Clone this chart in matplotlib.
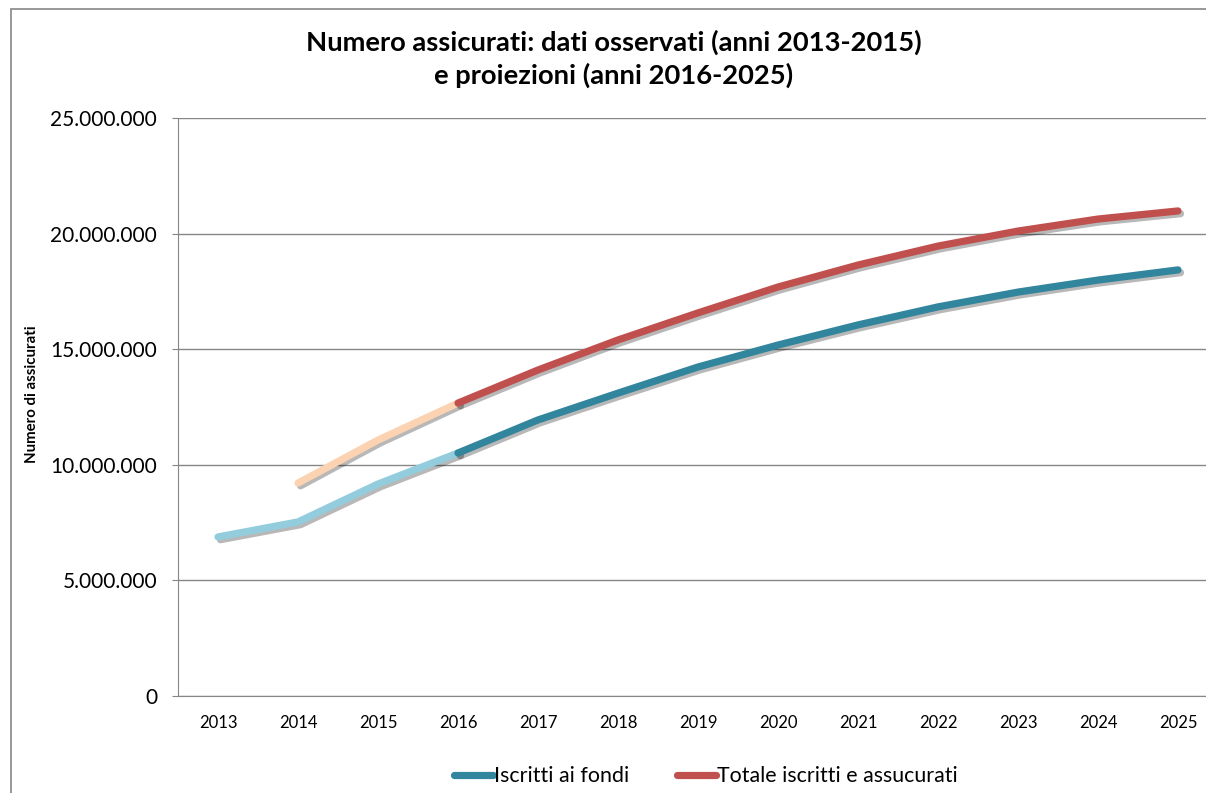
import numpy as np
import matplotlib
matplotlib.use("Agg")
import matplotlib.pyplot as plt
import matplotlib.patheffects as pe
from matplotlib.lines import Line2D
from matplotlib.patches import Rectangle
from matplotlib.ticker import FuncFormatter

plt.rcParams['font.family'] = ['Lato', 'DejaVu Sans']

# -------------------------------
# DATA
# -------------------------------
years = [2013, 2014, 2015, 2016, 2017, 2018, 2019, 2020, 2021, 2022, 2023, 2024, 2025]
iscritti = [6880000, 7530000, 9170000, 10510000, 11940000, 13100000, 14230000,
            15180000, 16050000, 16830000, 17470000, 17990000, 18430000]
totale = [np.nan, 9210000, 11070000, 12670000, 14100000, 15400000, 16570000,
          17690000, 18640000, 19460000, 20110000, 20630000, 20980000]
first_proj_year = 2016

title = "Numero assicurati: dati osservati (anni 2013-2015)\ne proiezioni (anni 2016-2025)"
ylabel = "Numero di assicurati"
labels = ["Iscritti ai fondi", "Totale iscritti e assucurati"]

teal = "#31859C"
red = "#C0504D"
light_teal = "#93CDDD"
peach = "#FBD3B2"
grid_col = "#868686"

# -------------------------------
# FIGURE
# -------------------------------
W, H = 1206, 793
fig = plt.figure(figsize=(W / 100, H / 100), dpi=100)
ax = fig.add_axes([178 / W, (H - 696) / H, 1040 / W, 578 / H])

x = np.arange(len(years))
k = years.index(first_proj_year)

shadow = [pe.SimpleLineShadow(offset=(1.8, -2.0), shadow_color="black", alpha=0.28),
          pe.Normal()]

def draw(vals, col_obs, col_proj):
    v = np.array(vals, dtype=float)
    ax.plot(x[:k + 1], v[:k + 1], color=col_obs, lw=5.2, solid_capstyle="round",
            solid_joinstyle="round", path_effects=shadow, zorder=3)
    ax.plot(x[k:], v[k:], color=col_proj, lw=5.2, solid_capstyle="round",
            solid_joinstyle="round", path_effects=shadow, zorder=4)

draw(iscritti, light_teal, teal)
draw(totale, peach, red)

ax.set_xlim(-0.5, len(years) - 0.5)
ax.set_ylim(0, 25000000)
ax.set_yticks(np.arange(0, 25000001, 5000000))
ax.yaxis.set_major_formatter(FuncFormatter(lambda v, p: f"{int(v):,}".replace(",", ".")))
ax.set_xticks(x)
ax.set_xticklabels([str(y) for y in years])

ax.grid(axis="y", color=grid_col, lw=1)
ax.set_axisbelow(True)
for s in ["top", "right"]:
    ax.spines[s].set_visible(False)
ax.spines["left"].set_color(grid_col)
ax.spines["bottom"].set_color(grid_col)
ax.tick_params(axis="y", length=4.3, color=grid_col, labelsize=15, pad=10.8)
ax.tick_params(axis="x", length=0, labelsize=12, pad=14)

fig.text(32 / W, 1 - 394 / H, ylabel, rotation=90, fontsize=10.8, fontweight="bold",
         ha="center", va="center")
fig.text(614 / W, 1 - 59 / H, title, fontsize=19.7, fontweight="bold",
         ha="center", va="center", linespacing=1.35)

handles = [Line2D([], [], color=teal, lw=5.2, solid_capstyle="round"),
           Line2D([], [], color=red, lw=5.2, solid_capstyle="round")]
fig.legend(handles, labels, loc="center", bbox_to_anchor=(706 / W, 1 - 776 / H),
           ncol=2, frameon=False, fontsize=15.4, handlelength=1.8,
           handletextpad=0.05, columnspacing=2.25)

# chart border (only top and left visible in the crop)
fig.patches.append(Rectangle((11 / W, -0.1), 1.2, 1.1 - 9 / H, transform=fig.transFigure,
                             fill=False, edgecolor=grid_col, lw=1.2))

fig.savefig("out.png", dpi=100)
